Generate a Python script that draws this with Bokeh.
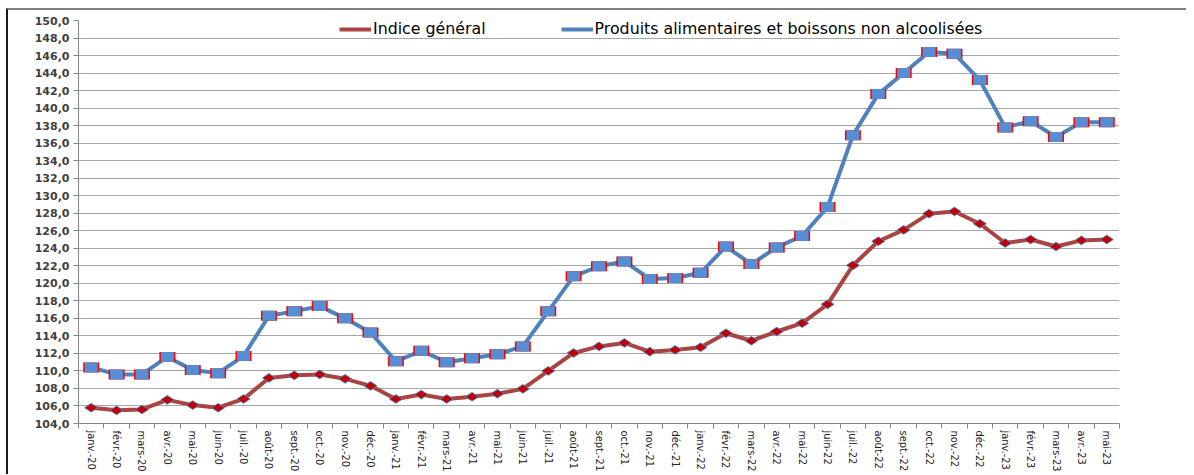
import math
from bokeh.plotting import figure
from bokeh.models import FixedTicker, Range1d, Legend, LegendItem, ColumnDataSource
from bokeh.embed import file_html
from bokeh.resources import INLINE

months = ["janv.-20", "févr.-20", "mars-20", "avr.-20", "mai-20", "juin-20", "juil.-20", "août-20",
          "sept.-20", "oct.-20", "nov.-20", "déc.-20",
          "janv.-21", "févr.-21", "mars-21", "avr.-21", "mai-21", "juin-21", "juil.-21", "août-21",
          "sept.-21", "oct.-21", "nov.-21", "déc.-21",
          "janv.-22", "févr.-22", "mars-22", "avr.-22", "mai-22", "juin-22", "juil.-22", "août-22",
          "sept.-22", "oct.-22", "nov.-22", "déc.-22",
          "janv.-23", "févr.-23", "mars-23", "avr.-23", "mai-23"]

indice_general = [105.8, 105.5, 105.6, 106.7, 106.1, 105.8, 106.8, 109.2, 109.5, 109.6, 109.1, 108.3,
                  106.8, 107.3, 106.8, 107.05, 107.4, 107.95, 110.0, 112.05, 112.8, 113.2, 112.2, 112.4,
                  112.7, 114.3, 113.45, 114.5, 115.45, 117.6, 122.05, 124.8, 126.1, 127.95, 128.2, 126.8,
                  124.6, 125.0, 124.2, 124.9, 125.0]

produits_alim = [110.4, 109.6, 109.6, 111.6, 110.1, 109.75, 111.7, 116.3, 116.8, 117.4, 116.0, 114.4,
                 111.1, 112.3, 111.0, 111.45, 111.9, 112.8, 116.8, 120.8, 121.95, 122.5, 120.5, 120.6,
                 121.2, 124.2, 122.2, 124.1, 125.4, 128.7, 136.9, 141.6, 144.0, 146.4, 146.2, 143.2,
                 137.8, 138.5, 136.7, 138.4, 138.4]

y_ticks = list(range(104, 151, 2))
labels = ["Indice général", "Produits alimentaires et boissons non alcoolisées"]

x = list(range(len(months)))
src = ColumnDataSource(dict(x=x, ig=indice_general, pa=produits_alim))

FRAME_H = 403
p = figure(frame_width=1041, frame_height=FRAME_H,
           x_range=Range1d(-0.5, len(months) - 0.5), y_range=Range1d(104, 150),
           output_backend="svg", toolbar_location=None,
           min_border_left=70, min_border_right=67, min_border_top=10, min_border_bottom=0)
p.styles = {"border-left": "2px solid #1a1a1a", "border-top": "2px solid #7f7f7f",
            "margin-left": "6px", "margin-top": "8px"}
p.outline_line_color = None
p.background_fill_color = "white"

p.xgrid.visible = False
p.ygrid.grid_line_color = "#A6A6A6"
p.ygrid.grid_line_width = 1

p.yaxis.ticker = FixedTicker(ticks=y_ticks)
p.yaxis.major_label_overrides = {t: f"{t:.1f}".replace(".", ",") for t in y_ticks}
p.yaxis.axis_line_color = "#868686"
p.yaxis.major_tick_line_color = "#868686"
p.yaxis.major_tick_out = 5
p.yaxis.major_tick_in = 0
p.yaxis.minor_tick_line_color = None
p.yaxis.major_label_text_font = "DejaVu Sans"
p.yaxis.major_label_text_font_style = "bold"
p.yaxis.major_label_text_font_size = "11px"
p.yaxis.major_label_text_color = "#404040"
p.yaxis.major_label_standoff = 4

p.xaxis.ticker = FixedTicker(ticks=x, minor_ticks=[i - 0.5 for i in range(len(months) + 1)])
p.xaxis.major_label_overrides = {i: m for i, m in enumerate(months)}
p.xaxis.major_label_orientation = "vertical"
p.xaxis.axis_line_color = "#868686"
p.xaxis.major_tick_out = 0
p.xaxis.major_tick_in = 0
p.xaxis.minor_tick_out = 5
p.xaxis.minor_tick_in = 0
p.xaxis.minor_tick_line_color = "#868686"
p.xaxis.major_label_text_font = "'DejaVu Sans Condensed', 'Liberation Sans Narrow', Roboto, sans-serif"
p.xaxis.major_label_text_font_size = "11px"
p.xaxis.major_label_text_color = "#222222"
p.xaxis.major_label_standoff = 2

red_line_col = "#A94442"
blue_line_col = "#4F81BD"

r_line = p.line("x", "ig", source=src, line_color=red_line_col, line_width=4)
b_line = p.line("x", "pa", source=src, line_color=blue_line_col, line_width=4)

p.scatter("x", "ig", source=src, marker="diamond", size=13, angle=math.pi / 2,
          fill_color="#C00000", line_color="#4F81BD", line_width=1)
p.rect("x", "pa", source=src, width=16, height=10, width_units="screen", height_units="screen",
       fill_color="#FF0000", line_color=None)
p.rect("x", "pa", source=src, width=13, height=10, width_units="screen", height_units="screen",
       fill_color="#558ED5", line_color=None)

r_proxy = p.scatter(x=[], y=[], marker="diamond", size=10, angle=math.pi / 2,
                    fill_color="#C00000", line_color="#4F81BD", line_width=1)
b_proxy = p.scatter(x=[], y=[], marker="square", size=9,
                    fill_color="#558ED5", line_color="#FF0000", line_width=1)

legend = Legend(items=[LegendItem(label=labels[0], renderers=[r_line, r_proxy]),
                       LegendItem(label=labels[1], renderers=[b_line, b_proxy])],
                orientation="horizontal", location=(261, FRAME_H - 18),
                glyph_width=32, glyph_height=16, label_height=16, label_standoff=2,
                spacing=75, padding=0, margin=0, border_line_color=None,
                background_fill_alpha=0,
                label_text_font="DejaVu Sans", label_text_font_size="15.8px",
                label_text_color="#000000")
p.add_layout(legend)

open("out.html", "w").write(file_html(p, INLINE))
